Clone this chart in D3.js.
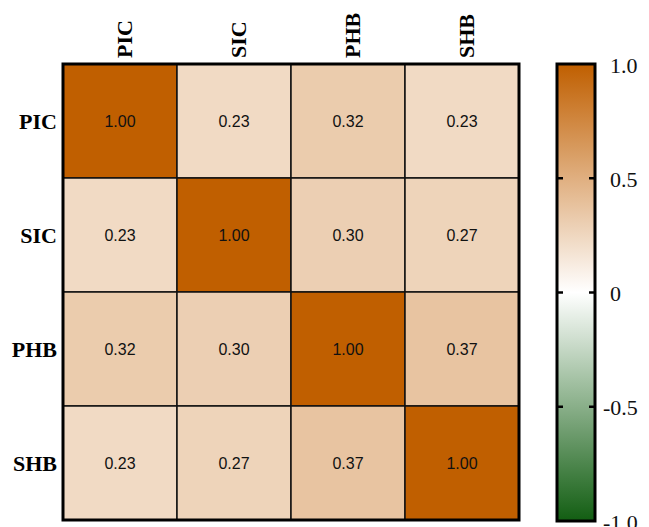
<!DOCTYPE html>
<html>
<head>
<meta charset="utf-8">
<script src="https://cdn.jsdelivr.net/npm/d3@7"></script>
<style>
  body { margin: 0; background: #fff; }
  svg { display: block; }
</style>
</head>
<body>
<svg id="chart" width="649" height="527"></svg>
<script>
// data
const vars = ['PIC', 'SIC', 'PHB', 'SHB']
const corr = [
  [1.00, 0.23, 0.32, 0.23],
  [0.23, 1.00, 0.30, 0.27],
  [0.32, 0.30, 1.00, 0.37],
  [0.23, 0.27, 0.37, 1.00]
]
const barTicks = [1.0, 0.5, 0, -0.5, -1.0]
const barTickLabels = ['1.0', '0.5', '0', '-0.5', '-1.0']

const svg = d3.select('#chart')

const x = d3.scaleBand().domain(vars).range([63, 519]).padding(0)
const y = d3.scaleBand().domain(vars).range([64, 520]).padding(0)

const color = d3.scaleLinear()
  .domain([-1, 0, 1])
  .range(['#125e12', '#ffffff', '#c05f00'])
  .interpolate(d3.interpolateRgb)

const cells = []
corr.forEach((row, i) => {
  row.forEach((v, j) => cells.push({ r: vars[i], c: vars[j], v: v }))
})

const g = svg.append('g')

g.selectAll('rect.cell')
  .data(cells)
  .enter()
  .append('rect')
  .attr('class', 'cell')
  .attr('x', d => x(d.c))
  .attr('y', d => y(d.r))
  .attr('width', x.bandwidth())
  .attr('height', y.bandwidth())
  .attr('fill', d => color(d.v))
  .attr('stroke', '#111')
  .attr('stroke-width', 1.5)

g.selectAll('text.val')
  .data(cells)
  .enter()
  .append('text')
  .attr('class', 'val')
  .attr('x', d => x(d.c) + x.bandwidth() / 2)
  .attr('y', d => y(d.r) + y.bandwidth() / 2)
  .attr('text-anchor', 'middle')
  .attr('dominant-baseline', 'central')
  .attr('font-family', 'Liberation Sans, Arial, sans-serif')
  .attr('font-size', 16)
  .attr('fill', '#111')
  .text(d => d.v.toFixed(2))

// outer frame
g.append('rect')
  .attr('x', x.range()[0])
  .attr('y', y.range()[0])
  .attr('width', x.range()[1] - x.range()[0])
  .attr('height', y.range()[1] - y.range()[0])
  .attr('fill', 'none')
  .attr('stroke', '#000')
  .attr('stroke-width', 3)

// row labels
g.selectAll('text.rowlab')
  .data(vars)
  .enter()
  .append('text')
  .attr('class', 'rowlab')
  .attr('x', 57)
  .attr('y', d => y(d) + y.bandwidth() / 2)
  .attr('text-anchor', 'end')
  .attr('dominant-baseline', 'central')
  .attr('font-family', 'Liberation Serif, Times New Roman, serif')
  .attr('font-weight', 'bold')
  .attr('font-size', 22)
  .text(d => d)

// column labels, rotated
g.selectAll('text.collab')
  .data(vars)
  .enter()
  .append('text')
  .attr('class', 'collab')
  .attr('transform', d => `translate(${x(d) + x.bandwidth() / 2 + 4},58) rotate(-90)`)
  .attr('text-anchor', 'start')
  .attr('dominant-baseline', 'central')
  .attr('font-family', 'Liberation Serif, Times New Roman, serif')
  .attr('font-weight', 'bold')
  .attr('font-size', 22)
  .text(d => d)

// colour bar
const cb = d3.scaleLinear().domain([1, -1]).range([64, 521])
const bx = 557, bw = 38

const defs = svg.append('defs')
const grad = defs.append('linearGradient')
  .attr('id', 'cbgrad')
  .attr('x1', 0).attr('y1', 0).attr('x2', 0).attr('y2', 1)
d3.range(0, 1.0001, 0.05).forEach(t => {
  grad.append('stop')
    .attr('offset', t)
    .attr('stop-color', color(1 - 2 * t))
})

svg.append('rect')
  .attr('x', bx)
  .attr('y', cb(1))
  .attr('width', bw)
  .attr('height', cb(-1) - cb(1))
  .attr('fill', 'url(#cbgrad)')
  .attr('stroke', '#000')
  .attr('stroke-width', 3)

const inner = barTicks.filter(t => t !== 1 && t !== -1)
svg.selectAll('line.tl')
  .data(inner)
  .enter()
  .append('line')
  .attr('x1', bx).attr('x2', bx + 6)
  .attr('y1', d => cb(d)).attr('y2', d => cb(d))
  .attr('stroke', '#000').attr('stroke-width', 2.5)
svg.selectAll('line.tr')
  .data(inner)
  .enter()
  .append('line')
  .attr('x1', bx + bw - 6).attr('x2', bx + bw)
  .attr('y1', d => cb(d)).attr('y2', d => cb(d))
  .attr('stroke', '#000').attr('stroke-width', 2.5)

svg.selectAll('text.cbl')
  .data(barTicks)
  .enter()
  .append('text')
  .attr('class', 'cbl')
  .attr('x', d => d < 0 ? 603 : 610)
  .attr('y', d => cb(d) + 1)
  .attr('dominant-baseline', 'central')
  .attr('font-family', 'Liberation Serif, Times New Roman, serif')
  .attr('font-size', 22)
  .attr('fill', '#111')
  .text((d, i) => barTickLabels[i])
</script>
</body>
</html>
